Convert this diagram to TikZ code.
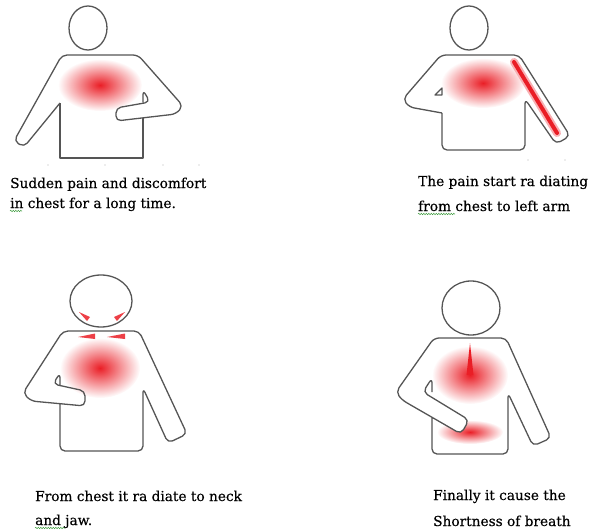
\documentclass[tikz,border=0pt]{standalone}
\usepackage{fontspec}
\setmainfont{DejaVu Serif}[FakeBold=0.4]
\usetikzlibrary{fadings,decorations.pathmorphing}
\definecolor{cinza}{RGB}{85,85,85}
\definecolor{vermelho}{RGB}{234,30,38}
\definecolor{verde}{RGB}{70,160,70}
\tikzfading[name=brilho, inner color=transparent!0, outer color=transparent!100]

\begin{document}
\begin{tikzpicture}[x=1pt, y=-1pt,
    every node/.style={font=\fontsize{13.7}{15}\selectfont, inner sep=0pt, anchor=base west},
    contorno/.style={draw=cinza, line width=1.3pt, line join=round},
    mancha/.style={fill=vermelho, path fading=brilho},
    ondinha/.style={verde, line width=0.5pt, decorate,
        decoration={snake, amplitude=0.7pt, segment length=2.5pt}}]
    \useasboundingbox (0,0) rectangle (594,530);

    % Figura 1: dor no peito
    \fill[mancha] (100,85) ellipse (42 and 26);
    \draw[contorno] (88,28) ellipse (19 and 22);
    \draw[contorno, rounded corners=5pt] (60,103) -- (24,147) -- (14,141) -- (62,55)
        -- (138,55) -- (183,106) -- (176,114) -- (116,121) -- (116,108)
        -- (150,102) -- (143,90) -- (143,102);
    \draw[contorno] (60,103) -- (60,158) -- (143,158) -- (143,118);
    \foreach \x in {48,105,163,199}
        \fill[gray!60] (\x,165) circle (0.7);
    \node (leg1a) at (10,188) {Sudden pain and discomfort};
    \node (leg1b) at (10,208) {in chest for a long time.};
    \draw[ondinha] ([yshift=-3pt]leg1b.base west) -- ++(12,0);

    % Figura 2: dor no braco esquerdo
    \fill[mancha] (483,83) ellipse (42 and 25);
    \draw[vermelho!35, line width=8pt, line cap=round] (514,62) -- (557,133);
    \draw[vermelho, line width=4pt, line cap=round] (514,62) -- (557,133);
    \draw[contorno] (469,28) ellipse (19 and 22);
    \draw[contorno, rounded corners=5pt] (442,113) -- (409,107) -- (403,99) -- (441,55)
        -- (519,55) -- (570,136) -- (556,144) -- (525,99) -- (525,150)
        -- (442,150) -- (442,113);
    \draw[contorno] (442,88) -- (435,95) -- (442,95) -- cycle;
    \foreach \x in {528,565}
        \fill[gray!60] (\x,160) circle (0.7);
    \node (leg2a) at (418,186) {The pain start ra diating};
    \node (leg2b) at (418,211) {from chest to left arm};
    \draw[ondinha] ([yshift=-3pt]leg2b.base west) -- ++(37,0);

    % Figura 3: pescoco e mandibula
    \fill[mancha] (100,368) ellipse (40 and 30);
    \fill[vermelho!85] (79,312) -- (90,317) -- (87,321) -- cycle;
    \fill[vermelho!85] (125,312) -- (114,317) -- (117,321) -- cycle;
    \fill[vermelho!85] (78,337) -- (95,333.5) -- (95,339) -- cycle;
    \fill[vermelho!85] (107,337) -- (125,333.5) -- (125,339) -- cycle;
    \draw[contorno] (101,301) ellipse (31 and 26);
    \draw[contorno, rounded corners=5pt] (60,385) -- (60,373) -- (53,384) -- (85,391)
        -- (85,406) -- (31,401) -- (23,393) -- (63,331) -- (139,331)
        -- (187,434) -- (168,443) -- (143,388) -- (143,451) -- (60,451) -- (60,404);
    \node (leg3a) at (35,501) {From chest it ra diate to neck};
    \node (leg3b) at (35,525) {and jaw.};
    \draw[ondinha] ([yshift=-3pt]leg3b.base west) -- ++(30,0);

    % Figura 4: falta de ar
    \fill[mancha] (470,375) ellipse (38 and 29);
    \fill[vermelho] (470,343) -- (473.5,375) -- (466.5,375) -- cycle;
    \fill[mancha] (470,432) ellipse (33 and 12);
    \fill[white, rounded corners=5pt] (423,392) -- (469,420) -- (461,434) -- (402,400) -- cycle;
    \draw[contorno] (471,308) ellipse (29 and 27);
    \draw[contorno, rounded corners=5pt] (432,392) -- (432,378) -- (423,392) -- (469,420)
        -- (461,434) -- (402,400) -- (396,392) -- (434,338) -- (506,338)
        -- (551,438) -- (533,446) -- (508,393) -- (508,454) -- (432,454) -- (432,417);
    \node (leg4a) at (433,500) {Finally it cause the};
    \node (leg4b) at (433,526) {Shortness of breath};
\end{tikzpicture}
\end{document}
